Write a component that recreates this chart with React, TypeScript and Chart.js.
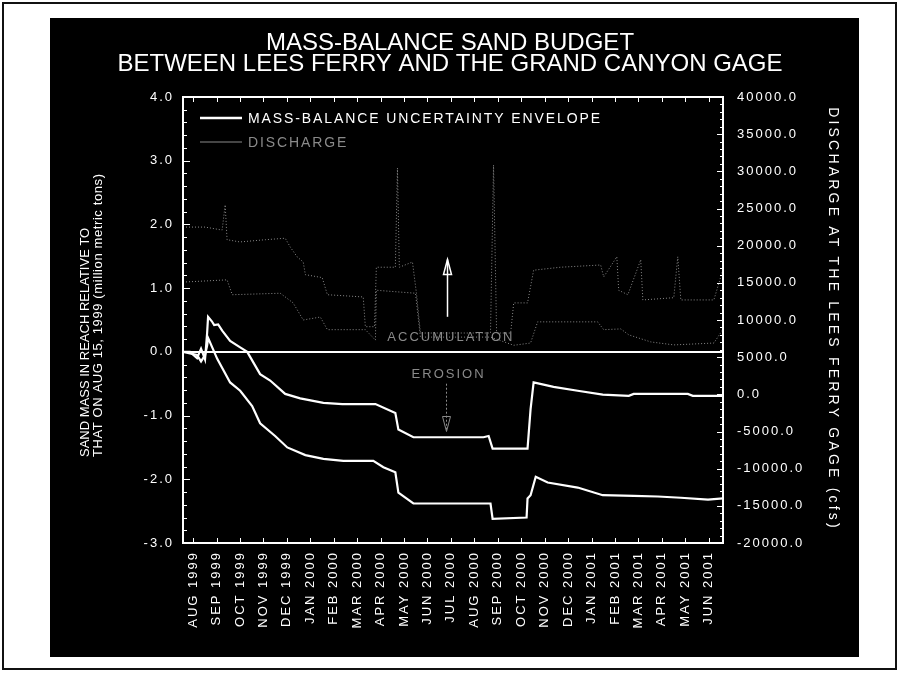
import React, { useEffect, useRef } from 'react';
import { Chart, registerables } from 'chart.js';

Chart.register(...registerables);

// ---------- data ----------
const titleLines = ['MASS-BALANCE SAND BUDGET', 'BETWEEN LEES FERRY AND THE GRAND CANYON GAGE'];

const monthLabels = [
  'AUG 1999', 'SEP 1999', 'OCT 1999', 'NOV 1999', 'DEC 1999',
  'JAN 2000', 'FEB 2000', 'MAR 2000', 'APR 2000', 'MAY 2000', 'JUN 2000', 'JUL 2000',
  'AUG 2000', 'SEP 2000', 'OCT 2000', 'NOV 2000', 'DEC 2000',
  'JAN 2001', 'FEB 2001', 'MAR 2001', 'APR 2001', 'MAY 2001', 'JUN 2001',
];

// x values are months measured from the AUG 1999 tick
const upperX = [-0.43, -0.13, 0.17, 0.34, 0.51, 0.6, 0.64, 0.8, 0.9, 1.07, 1.25, 1.58, 2.01, 2.31, 2.86, 3.29, 3.93, 4.57, 5.56, 6.37, 7.78, 8.63, 8.76, 9.4, 12.39, 12.61, 12.78, 14.27, 14.4, 14.53, 15.38, 16.41, 17.48, 18.59, 18.8, 21.11, 21.32, 22.61];
const upperY = [0.0, 0.0, -0.1, 0.05, -0.12, 0.3, 0.55, 0.48, 0.42, 0.43, 0.33, 0.17, 0.07, 0.0, -0.35, -0.45, -0.66, -0.73, -0.8, -0.82, -0.82, -0.96, -1.22, -1.34, -1.34, -1.32, -1.52, -1.52, -0.9, -0.48, -0.55, -0.61, -0.67, -0.69, -0.66, -0.66, -0.69, -0.69];

const lowerX = [-0.43, 0.17, 0.34, 0.51, 0.6, 0.64, 1.03, 1.58, 2.01, 2.52, 2.86, 3.5, 4.02, 4.79, 5.56, 6.41, 7.69, 8.12, 8.63, 8.76, 9.4, 12.69, 12.78, 14.23, 14.27, 14.4, 14.62, 15.13, 16.41, 17.48, 18.8, 19.83, 20.81, 21.97, 22.61];
const lowerY = [0.0, -0.05, -0.15, -0.05, 0.1, 0.22, -0.11, -0.48, -0.61, -0.85, -1.12, -1.32, -1.5, -1.62, -1.68, -1.71, -1.71, -1.81, -1.89, -2.21, -2.38, -2.38, -2.62, -2.6, -2.3, -2.25, -1.96, -2.05, -2.13, -2.25, -2.26, -2.27, -2.29, -2.32, -2.3];

// discharge (cfs): daily high and daily low traces
const qMaxX = [-0.43, 0.51, 1.24, 1.37, 1.45, 2.0, 3.08, 3.93, 4.15, 4.44, 4.7, 4.79, 5.51, 5.73, 7.26, 7.35, 7.74, 7.82, 8.63, 8.72, 8.8, 9.36, 9.53, 9.7, 12.69, 12.82, 12.95, 13.55, 13.68, 14.27, 14.53, 15.68, 17.39, 17.52, 18.08, 18.16, 18.55, 19.1, 19.19, 20.51, 20.68, 20.81, 22.22, 22.6];
const qMaxY = [22500, 22500, 22100, 25500, 20800, 20500, 20800, 21000, 19800, 18500, 17800, 16100, 15700, 13400, 13100, 9100, 9100, 17100, 17100, 30450, 17100, 17800, 13600, 8250, 8250, 30850, 8250, 8250, 12300, 12300, 16700, 17100, 17400, 15800, 18500, 14000, 13400, 18100, 12700, 13000, 18500, 12700, 12700, 16700];

const qMinX = [-0.43, 1.45, 1.67, 3.72, 4.27, 4.7, 5.43, 5.73, 7.35, 7.78, 7.82, 9.49, 9.7, 12.69, 13.68, 14.4, 14.7, 17.26, 17.52, 18.25, 18.59, 19.53, 20.51, 22.22, 22.6];
const qMinY = [15100, 15400, 13400, 13600, 12300, 10000, 10400, 8700, 8700, 7300, 14000, 13600, 7700, 7700, 6600, 6900, 9750, 9750, 8700, 8800, 8000, 7050, 6650, 6900, 8700];

const leftTitle = ['SAND MASS IN REACH RELATIVE TO', 'THAT ON AUG 15, 1999 (million metric tons)'];
const rightTitle = 'DISCHARGE AT THE LEES FERRY GAGE (cfs)';
const envelopeLabel = 'MASS-BALANCE UNCERTAINTY ENVELOPE';
const dischargeLabel = 'DISCHARGE';
// annotations, in data units of the left axis
const accumulation = { text: 'ACCUMULATION', x: 11.0, y: 0.22, arrowFrom: 0.55, arrowTo: 1.45 };
const erosion = { text: 'EROSION', x: 10.9, y: -0.35, arrowFrom: -0.5, arrowTo: -1.25 };

// ---------- styling ----------
const FONT = '"Liberation Sans", Arial, sans-serif';
const GREY = '#8a8a8a';

const zip = (xs: number[], ys: number[]) => xs.map((x, i) => ({ x, y: ys[i] }));

const backgroundPlugin = {
  id: 'pagePanel',
  beforeDraw(chart: any) {
    const { ctx, width, height } = chart;
    ctx.save();
    ctx.fillStyle = '#ffffff';
    ctx.fillRect(0, 0, width, height);
    ctx.strokeStyle = '#111';
    ctx.lineWidth = 2;
    ctx.strokeRect(3, 3, width - 7, height - 9);
    ctx.fillStyle = '#000';
    ctx.fillRect(50, 18, 809, 639);
    ctx.restore();
    // spaced lettering for the axis tick labels
    (ctx as any).letterSpacing = '2px';
  },
};

const textPlugin = {
  id: 'titlesText',
  afterDraw(chart: any) {
    const { ctx, chartArea: a } = chart;
    ctx.save();
    ctx.fillStyle = '#fff';
    (ctx as any).letterSpacing = '0px';
    ctx.font = `24px ${FONT}`;
    ctx.textAlign = 'center';
    ctx.textBaseline = 'middle';
    ctx.fillText(titleLines[0], 450, 43);
    ctx.fillText(titleLines[1], 450, 64);

    // left axis title: two lines, rotated, starting from the same baseline point
    ctx.font = `13px ${FONT}`;
    ctx.textAlign = 'left';
    ctx.save();
    ctx.translate(85, a.bottom - 86);
    ctx.rotate(-Math.PI / 2);
    ctx.fillText(leftTitle[0], 0, 0);
    (ctx as any).letterSpacing = '0.6px';
    ctx.fillText(leftTitle[1], 0, 13);
    ctx.restore();

    // right axis title
    ctx.save();
    ctx.font = `14px ${FONT}`;
    (ctx as any).letterSpacing = '3.2px';
    ctx.textAlign = 'center';
    ctx.translate(833, (a.top + a.bottom) / 2 - 1);
    ctx.rotate(Math.PI / 2);
    ctx.fillText(rightTitle, 0, 0);
    ctx.restore();
    ctx.restore();
  },
};

const framePlugin = {
  id: 'frameTicks',
  afterDraw(chart: any) {
    const { ctx, chartArea: a, scales } = chart;
    ctx.save();
    ctx.strokeStyle = '#fff';
    ctx.lineWidth = 2;
    ctx.strokeRect(a.left, a.top, a.right - a.left, a.bottom - a.top);
    ctx.lineWidth = 1;
    ctx.beginPath();
    const y = scales.y;
    const yt = y.ticks.map((t: any) => t.value);
    for (let i = 0; i < yt.length; i++) {
      const py = Math.round(y.getPixelForValue(yt[i])) + 0.5;
      ctx.moveTo(a.left, py); ctx.lineTo(a.left + 7, py);
      if (i < yt.length - 1) {
        for (let k = 1; k < 5; k++) {
          const v = yt[i] + ((yt[i + 1] - yt[i]) * k) / 5;
          const p = Math.round(y.getPixelForValue(v)) + 0.5;
          ctx.moveTo(a.left, p); ctx.lineTo(a.left + 4, p);
        }
      }
    }
    const y1 = scales.y1;
    const rt = y1.ticks.map((t: any) => t.value);
    for (let i = 0; i < rt.length; i++) {
      const py = Math.round(y1.getPixelForValue(rt[i])) + 0.5;
      ctx.moveTo(a.right, py); ctx.lineTo(a.right - 6, py);
      if (i < rt.length - 1) {
        for (let k = 1; k < 5; k++) {
          const v = rt[i] + ((rt[i + 1] - rt[i]) * k) / 5;
          const p = Math.round(y1.getPixelForValue(v)) + 0.5;
          ctx.moveTo(a.right, p); ctx.lineTo(a.right - 3, p);
        }
      }
    }
    const x = scales.x;
    x.ticks.forEach((t: any) => {
      const px = Math.round(x.getPixelForValue(t.value)) + 0.5;
      ctx.moveTo(px, a.top); ctx.lineTo(px, a.top + 5);
      ctx.moveTo(px, a.bottom); ctx.lineTo(px, a.bottom - 5);
    });
    ctx.stroke();
    ctx.restore();
  },
};

const legendPlugin = {
  id: 'insideLegend',
  afterDraw(chart: any) {
    const { ctx, chartArea: a } = chart;
    const ds = chart.data.datasets;
    const items = [ds[0], ds[2]];
    ctx.save();
    ctx.font = `14px ${FONT}`;
    (ctx as any).letterSpacing = '1.9px';
    ctx.textBaseline = 'middle';
    ctx.textAlign = 'left';
    items.forEach((d: any, i: number) => {
      const yy = a.top + 21 + i * 24;
      ctx.strokeStyle = d.borderColor;
      ctx.lineWidth = i === 0 ? 2.5 : 1;
      ctx.beginPath();
      ctx.moveTo(a.left + 17, yy); ctx.lineTo(a.left + 59, yy);
      ctx.stroke();
      ctx.fillStyle = i === 0 ? '#fff' : GREY;
      ctx.fillText(d.label, a.left + 65, yy + 1);
    });
    ctx.restore();
  },
};

const arrowHead = (ctx: CanvasRenderingContext2D, x: number, tipY: number, dir: number) => {
  ctx.beginPath();
  ctx.moveTo(x, tipY);
  ctx.lineTo(x - 4, tipY + dir * 15);
  ctx.lineTo(x + 4, tipY + dir * 15);
  ctx.closePath();
  ctx.stroke();
};

const annotationPlugin = {
  id: 'annotations',
  afterDatasetsDraw(chart: any) {
    const { ctx, scales } = chart;
    const { x, y } = scales;
    ctx.save();
    ctx.font = `13px ${FONT}`;
    (ctx as any).letterSpacing = '2px';
    ctx.textAlign = 'center';
    ctx.textBaseline = 'middle';
    ctx.fillStyle = GREY;
    ctx.fillText(accumulation.text, x.getPixelForValue(accumulation.x), y.getPixelForValue(accumulation.y));
    ctx.fillText(erosion.text, x.getPixelForValue(erosion.x), y.getPixelForValue(erosion.y));
    // accumulation arrow (up)
    const ax = Math.round(x.getPixelForValue(accumulation.x - 0.15)) + 0.5;
    ctx.strokeStyle = '#fff';
    ctx.lineWidth = 1.5;
    ctx.beginPath();
    ctx.moveTo(ax, y.getPixelForValue(accumulation.arrowFrom));
    ctx.lineTo(ax, y.getPixelForValue(accumulation.arrowTo));
    ctx.stroke();
    arrowHead(ctx, ax, y.getPixelForValue(accumulation.arrowTo), 1);
    // erosion arrow (down)
    const ex = Math.round(x.getPixelForValue(erosion.x - 0.1)) + 0.5;
    ctx.strokeStyle = GREY;
    ctx.lineWidth = 1;
    ctx.setLineDash([2, 2]);
    ctx.beginPath();
    ctx.moveTo(ex, y.getPixelForValue(erosion.arrowFrom));
    ctx.lineTo(ex, y.getPixelForValue(erosion.arrowTo));
    ctx.stroke();
    ctx.setLineDash([]);
    arrowHead(ctx, ex, y.getPixelForValue(erosion.arrowTo), -1);
    ctx.restore();
  },
};

export default function App() {
  const ref = useRef<HTMLCanvasElement>(null);

  useEffect(() => {
    if (!ref.current) return;
    const tickFont = { family: FONT, size: 13 };
    const chart = new Chart(ref.current, {
      type: 'line',
      data: {
        datasets: [
          { label: envelopeLabel, data: zip(upperX, upperY), yAxisID: 'y', borderColor: '#fff', borderWidth: 2.2, pointRadius: 0, tension: 0 },
          { label: envelopeLabel + ' (lower)', data: zip(lowerX, lowerY), yAxisID: 'y', borderColor: '#fff', borderWidth: 2.2, pointRadius: 0, tension: 0 },
          { label: dischargeLabel, data: zip(qMaxX, qMaxY), yAxisID: 'y1', borderColor: GREY, borderWidth: 1, borderDash: [1, 2], pointRadius: 0, tension: 0 },
          { label: dischargeLabel + ' (low)', data: zip(qMinX, qMinY), yAxisID: 'y1', borderColor: GREY, borderWidth: 1, borderDash: [1, 2], pointRadius: 0, tension: 0 },
        ],
      } as any,
      options: {
        responsive: false,
        animation: false,
        devicePixelRatio: 1,
        layout: { padding: { left: 79, right: 61, top: 97, bottom: 18 } },
        plugins: { legend: { display: false }, title: { display: false }, tooltip: { enabled: false } },
        scales: {
          x: {
            type: 'linear',
            min: -0.43,
            max: 22.61,
            grid: { display: false, drawTicks: false },
            border: { display: false },
            afterBuildTicks: (s: any) => { s.ticks = monthLabels.map((_, i) => ({ value: i })); },
            afterFit: (s: any) => { s.height = 114; },
            ticks: {
              autoSkip: false,
              minRotation: 90,
              maxRotation: 90,
              padding: 8,
              color: '#fff',
              font: { family: FONT, size: 13 },
              callback: (v: any) => monthLabels[Math.round(Number(v))] ?? '',
            },
          },
          y: {
            type: 'linear',
            position: 'left',
            min: -3,
            max: 4,
            afterFit: (s: any) => { s.width = 104; },
            grid: {
              drawTicks: false,
              lineWidth: 2,
              color: (c: any) => (c.tick && c.tick.value === 0 ? '#ffffff' : 'rgba(0,0,0,0)'),
            },
            border: { display: false },
            ticks: { stepSize: 1, padding: 9, color: '#fff', font: tickFont, callback: (v: any) => Number(v).toFixed(1) },
          },
          y1: {
            type: 'linear',
            position: 'right',
            min: -20000,
            max: 40000,
            afterFit: (s: any) => { s.width = 116; },
            grid: { display: false, drawTicks: false },
            border: { display: false },
            ticks: { stepSize: 5000, padding: 14, color: '#fff', font: tickFont, callback: (v: any) => Number(v).toFixed(1) },
          },
        },
      } as any,
      plugins: [backgroundPlugin, textPlugin, framePlugin, legendPlugin, annotationPlugin],
    });
    return () => chart.destroy();
  }, []);

  return (
    <div style={{ position: 'absolute', left: 0, top: 0, width: 900, height: 675, background: '#fff' }}>
      <canvas ref={ref} width={900} height={675} style={{ display: 'block' }} />
    </div>
  );
}
